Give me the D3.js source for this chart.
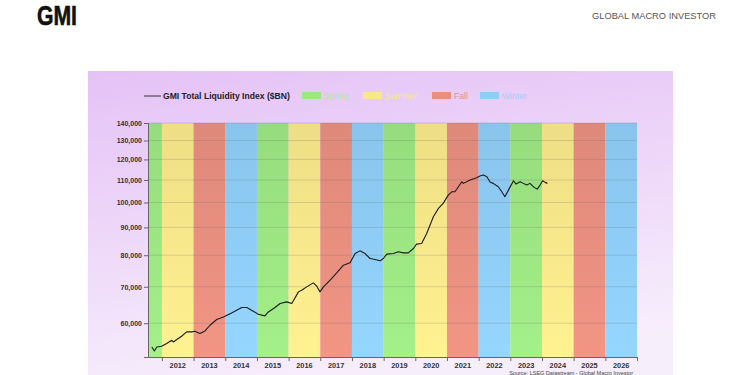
<!DOCTYPE html>
<html>
<head>
<meta charset="utf-8">
<script src="https://cdn.jsdelivr.net/npm/d3@7"></script>
<style>
  html, body { margin: 0; padding: 0; background: #fff; }
  svg { display: block; }
</style>
</head>
<body>
<div id="chart"></div>
<script>
// --- Data ---
const dates = [
  2011.68, 2011.76, 2011.84, 2011.99, 2012.15, 2012.31, 2012.36, 2012.47, 2012.62, 2012.78,
  2012.94, 2013.04, 2013.20, 2013.36, 2013.52, 2013.73, 2013.94, 2014.20, 2014.52, 2014.68,
  2014.83, 2015.04, 2015.25, 2015.36, 2015.57, 2015.73, 2015.94, 2016.10, 2016.31, 2016.41,
  2016.57, 2016.78, 2016.89, 2016.99, 2017.10, 2017.31, 2017.52, 2017.73, 2017.94, 2018.10,
  2018.25, 2018.41, 2018.57, 2018.73, 2018.89, 2018.99, 2019.10, 2019.31, 2019.46, 2019.62,
  2019.78, 2019.94, 2020.04, 2020.20, 2020.36, 2020.57, 2020.73, 2020.88, 2021.04, 2021.15,
  2021.25, 2021.47, 2021.52, 2021.73, 2021.94, 2022.04, 2022.15, 2022.26, 2022.36, 2022.46,
  2022.62, 2022.73, 2022.83, 2022.97, 2023.10, 2023.18, 2023.31, 2023.41, 2023.52, 2023.62,
  2023.75, 2023.85, 2023.94, 2024.02, 2024.10, 2024.17
];
const liquidity = [
  54250, 53340, 54250, 54420, 55050, 55820, 55420, 55990, 56780, 57830,
  57830, 57990, 57430, 58070, 59480, 60940, 61610, 62670, 64120, 64120,
  63390, 62330, 61880, 62930, 64120, 65220, 65660, 65220, 68500, 68990,
  69970, 71170, 70170, 68500, 69970, 71990, 74250, 76700, 77460, 80600,
  81490, 80600, 78900, 78580, 78120, 78900, 80360, 80600, 81160, 80810,
  80810, 82320, 83850, 84090, 87720, 94120, 97540, 99620, 103180, 104640,
  104640, 109170, 108430, 109950, 111030, 111840, 112320, 111510, 109030, 108430,
  106880, 104640, 102450, 106160, 109640, 108110, 109170, 108430, 107660, 108430,
  106610, 105840, 107660, 109640, 108890, 108430
];
const years = [2011, 2012, 2013, 2014, 2015, 2016, 2017, 2018, 2019, 2020, 2021, 2022, 2023, 2024, 2025, 2026];
const yearLabels = years.slice(1);
const seasons = ["Spring", "Summer", "Fall", "Winter"];
const yTicks = [60000, 70000, 80000, 90000, 100000, 110000, 120000, 130000, 140000];

const seasonFill = { Spring: "#9de683", Summer: "#f8e88b", Fall: "#e88f7f", Winter: "#8fcdf6" };
const seasonText = { Spring: "#aeea97", Summer: "#f6e69a", Fall: "#e48f8c", Winter: "#a3cdf4" };

// --- Dimensions ---
const width = 750;
const height = 375;
const plot = { left: 148, right: 637, top: 123, bottom: 357 };
const font = "Arial, 'Liberation Sans', sans-serif";

const svg = d3.select("#chart").append("svg")
  .attr("width", width)
  .attr("height", height)
  .attr("viewBox", [0, 0, width, height]);

const defs = svg.append("defs");

const panelGrad = defs.append("linearGradient")
  .attr("id", "panelGrad").attr("x1", 0).attr("y1", 0).attr("x2", 0.25).attr("y2", 1);
panelGrad.append("stop").attr("offset", "0%").attr("stop-color", "#e5c2f6");
panelGrad.append("stop").attr("offset", "100%").attr("stop-color", "#f7eefc");

seasons.forEach(s => {
  const g = defs.append("linearGradient")
    .attr("id", `grad-${s}`).attr("x1", 0).attr("y1", 0).attr("x2", 0).attr("y2", 1);
  const c = d3.color(seasonFill[s]);
  g.append("stop").attr("offset", "0%").attr("stop-color", c.darker(0.12));
  g.append("stop").attr("offset", "100%").attr("stop-color", c.brighter(0.12));
});

// Header
svg.append("text")
  .attr("x", 37).attr("y", 25)
  .attr("font-family", font)
  .attr("font-weight", 900)
  .attr("font-size", 27)
  .attr("textLength", 40)
  .attr("lengthAdjust", "spacingAndGlyphs")
  .attr("stroke", "#111").attr("stroke-width", 0.6)
  .attr("fill", "#111")
  .text("GMI");

svg.append("text")
  .attr("x", 592).attr("y", 19)
  .attr("font-family", font)
  .attr("font-size", 9.5)
  .attr("textLength", 124)
  .attr("lengthAdjust", "spacingAndGlyphs")
  .attr("fill", "#555")
  .text("GLOBAL MACRO INVESTOR");

// Panel
svg.append("rect")
  .attr("x", 88).attr("y", 71)
  .attr("width", 585).attr("height", 320)
  .attr("fill", "url(#panelGrad)");

// --- Scales ---
const x = d3.scaleLinear().domain([2011.56, 2027]).range([plot.left, plot.right]);
const y = d3.scaleLog().domain([52000, 140000]).range([plot.bottom, plot.top]);

// Season columns
svg.append("g")
  .selectAll("rect")
  .data(years)
  .join("rect")
  .attr("x", d => Math.max(x(d), plot.left))
  .attr("y", plot.top)
  .attr("width", d => x(d + 1) - Math.max(x(d), plot.left))
  .attr("height", plot.bottom - plot.top)
  .attr("fill", d => `url(#grad-${seasons[(d - 2011) % 4]})`);

// Gridlines
svg.append("g")
  .selectAll("line")
  .data(yTicks)
  .join("line")
  .attr("x1", plot.left).attr("x2", plot.right)
  .attr("y1", d => y(d)).attr("y2", d => y(d))
  .attr("stroke", "#6f6f6f")
  .attr("stroke-opacity", 0.35)
  .attr("stroke-width", 0.7);

// Y axis
const yAxis = svg.append("g")
  .attr("transform", `translate(${plot.left},0)`)
  .call(d3.axisLeft(y).tickValues(yTicks).tickFormat(d3.format(",")).tickSize(4).tickPadding(2));
yAxis.select(".domain").attr("stroke", "#666");
yAxis.selectAll(".tick line").attr("stroke", "#666");
yAxis.selectAll("text")
  .attr("font-family", font)
  .attr("font-weight", 700)
  .attr("font-size", 7)
  .attr("fill", "#333");

// X axis
const xAxis = svg.append("g")
  .attr("transform", `translate(0,${plot.bottom})`)
  .call(d3.axisBottom(x).tickValues(d3.range(2012, 2028)).tickFormat("").tickSize(4).tickSizeOuter(0));
xAxis.select(".domain").attr("stroke", "#666");
xAxis.selectAll(".tick line").attr("stroke", "#666");

svg.append("g")
  .selectAll("text")
  .data(yearLabels)
  .join("text")
  .attr("x", d => x(d + 0.5))
  .attr("y", plot.bottom + 10.5)
  .attr("text-anchor", "middle")
  .attr("font-family", font)
  .attr("font-weight", 700)
  .attr("font-size", 7.4)
  .attr("fill", "#333")
  .text(d => d);

// Line
const series = dates.map((d, i) => [d, liquidity[i]]);
svg.append("path")
  .datum(series)
  .attr("fill", "none")
  .attr("stroke", "#1c1c1c")
  .attr("stroke-width", 1.1)
  .attr("stroke-linejoin", "round")
  .attr("d", d3.line().x(d => x(d[0])).y(d => y(d[1])));

// Legend
const legend = svg.append("g").attr("transform", "translate(0,96)");
legend.append("line")
  .attr("x1", 144).attr("x2", 161)
  .attr("stroke", "#333").attr("stroke-width", 1);
legend.append("text")
  .attr("x", 163).attr("y", 3)
  .attr("font-family", font)
  .attr("font-weight", 700)
  .attr("font-size", 8.6)
  .attr("fill", "#222")
  .text("GMI Total Liquidity Index ($BN)");

const legendX = { Spring: 302, Summer: 363, Fall: 432, Winter: 480 };
seasons.forEach(s => {
  legend.append("rect")
    .attr("x", legendX[s]).attr("y", -4)
    .attr("width", 19).attr("height", 7)
    .attr("fill", seasonFill[s]);
  legend.append("text")
    .attr("x", legendX[s] + 22).attr("y", 3)
    .attr("font-family", font)
    .attr("font-size", 8.6)
    .attr("fill", seasonText[s])
    .text(s);
});

// Source
svg.append("text")
  .attr("x", 633).attr("y", 375)
  .attr("text-anchor", "end")
  .attr("font-family", font)
  .attr("font-size", 5.5)
  .attr("fill", "#444")
  .text("Source: LSEG Datastream - Global Macro Investor");
</script>
</body>
</html>
